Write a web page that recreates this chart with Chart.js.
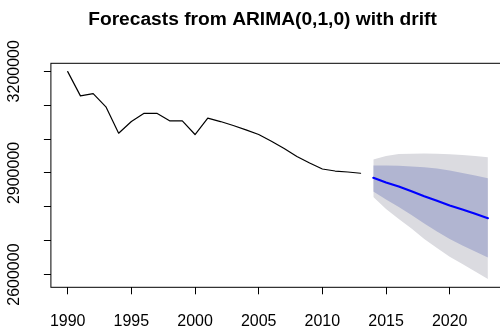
<!DOCTYPE html>
<html>
<head>
<meta charset="utf-8">
<script src="https://cdn.jsdelivr.net/npm/chart.js@4.4.0/dist/chart.umd.min.js"></script>
<style>
  html, body { margin: 0; padding: 0; background: #fff; width: 500px; height: 334px; overflow: hidden; }
  canvas { display: block; }
</style>
</head>
<body>
<canvas id="c" width="510" height="334" style="width:510px;height:334px"></canvas>
<script>
// Observed annual series
const years = [1990, 1991, 1992, 1993, 1994, 1995, 1996, 1997, 1998, 1999, 2000, 2001,
               2002, 2003, 2004, 2005, 2006, 2007, 2008, 2009, 2010, 2011, 2012, 2013];
const observed = [3199000, 3127400, 3134200, 3095000, 3017100, 3051600, 3075800, 3075800,
                  3053700, 3053700, 3013300, 3061900, 3051600, 3039800, 3027100, 3013300,
                  2993500, 2972000, 2948400, 2929200, 2911500, 2905600, 2902700, 2899100];

// Ten-year forecast with 80% and 95% intervals
const forecastYears = [2014, 2015, 2016, 2017, 2018, 2019, 2020, 2021, 2022, 2023];
const pointForecast = [2885500, 2871700, 2859900, 2846000, 2831300, 2817700, 2803800, 2792000, 2779400, 2766400];
const lo80 = [2845100, 2821500, 2799400, 2775800, 2750700, 2727100, 2705000, 2685800, 2668100, 2650400];
const hi80 = [2921800, 2921800, 2920900, 2918900, 2916800, 2913000, 2907100, 2899700, 2892300, 2884400];
const lo95 = [2828900, 2793500, 2764000, 2736000, 2705000, 2678500, 2652500, 2631300, 2609100, 2587000];
const hi95 = [2939500, 2949900, 2955800, 2956300, 2957200, 2956300, 2955200, 2952800, 2949900, 2946300];

// Axis ticks
const xTickValues = [1990, 1995, 2000, 2005, 2010, 2015, 2020];
const yTickValues = [2600000, 2700000, 2800000, 2900000, 3000000, 3100000, 3200000];
const yLabelValues = [2600000, 2900000, 3200000];

const chartTitle = 'Forecasts from ARIMA(0,1,0) with drift';

const FONT = '"Liberation Sans", Arial, sans-serif';

// Axis limits: data range widened by 4% on each side
function paddedRange(values) {
  const lo = Math.min(...values), hi = Math.max(...values);
  const pad = (hi - lo) * 0.04;
  return [lo - pad, hi + pad];
}
const [xMin, xMax] = paddedRange(years.concat(forecastYears));
const [yMin, yMax] = paddedRange(observed.concat(lo95, hi95));

const toPoints = (xs, ys) => xs.map((x, i) => ({ x: x, y: ys[i] }));

const LIGHT_BAND = '#DBDBE0';
const DARK_BAND = '#B1B5D1';

const lineBase = { pointRadius: 0, tension: 0, borderCapStyle: 'round', borderJoinStyle: 'round' };

const datasets = [
  Object.assign({ label: 'observed', data: toPoints(years, observed),
    borderColor: '#000', borderWidth: 1.2, fill: false, order: 0 }, lineBase),
  Object.assign({ label: 'forecast', data: toPoints(forecastYears, pointForecast),
    borderColor: '#0000FF', borderWidth: 2.2, fill: false, order: 0 }, lineBase),
  Object.assign({ label: 'lo80', data: toPoints(forecastYears, lo80),
    borderWidth: 0, borderColor: 'rgba(0,0,0,0)', fill: false, order: 1 }, lineBase),
  Object.assign({ label: 'hi80', data: toPoints(forecastYears, hi80),
    borderWidth: 0, borderColor: 'rgba(0,0,0,0)', backgroundColor: DARK_BAND, fill: '-1', order: 1 }, lineBase),
  Object.assign({ label: 'lo95', data: toPoints(forecastYears, lo95),
    borderWidth: 0, borderColor: 'rgba(0,0,0,0)', fill: false, order: 2 }, lineBase),
  Object.assign({ label: 'hi95', data: toPoints(forecastYears, hi95),
    borderWidth: 0, borderColor: 'rgba(0,0,0,0)', backgroundColor: LIGHT_BAND, fill: '-1', order: 2 }, lineBase)
];

// Plot frame, rotated y labels and the main title
const decorations = {
  id: 'decorations',
  afterDraw(chart) {
    const ctx = chart.ctx;
    const a = chart.chartArea;
    ctx.save();
    ctx.strokeStyle = '#000';
    ctx.lineWidth = 1;
    ctx.strokeRect(a.left, a.top, a.right - a.left, a.bottom - a.top);

    ctx.fillStyle = '#000';
    ctx.font = '16px ' + FONT;
    ctx.textAlign = 'center';
    ctx.textBaseline = 'middle';
    const ys = chart.scales.y;
    yLabelValues.forEach(v => {
      ctx.save();
      ctx.translate(14.5, ys.getPixelForValue(v));
      ctx.rotate(-Math.PI / 2);
      ctx.fillText(String(v), 0, 0);
      ctx.restore();
    });

    ctx.font = 'bold 19.2px ' + FONT;
    ctx.fillText(chartTitle, 262.5, 20);
    ctx.restore();
  }
};

new Chart(document.getElementById('c'), {
  type: 'line',
  data: { datasets: datasets },
  options: {
    responsive: false,
    animation: false,
    layout: { padding: { top: 63.3, right: 5.3, left: 0, bottom: 0 } },
    plugins: { legend: { display: false }, tooltip: { enabled: false }, title: { display: false } },
    scales: {
      x: {
        type: 'linear',
        min: xMin,
        max: xMax,
        afterBuildTicks: s => { s.ticks = xTickValues.map(v => ({ value: v })); },
        afterFit: s => { s.height = 46.7; },
        ticks: {
          autoSkip: false, maxRotation: 0, minRotation: 0, padding: 18,
          color: '#000', font: { family: FONT, size: 16 },
          callback: v => String(v)
        },
        grid: { drawOnChartArea: false, drawTicks: true, tickLength: 7, color: '#000', lineWidth: 1 },
        border: { display: false }
      },
      y: {
        type: 'linear',
        min: yMin,
        max: yMax,
        afterBuildTicks: s => { s.ticks = yTickValues.map(v => ({ value: v })); },
        afterFit: s => { s.width = 50.9; },
        ticks: { display: false },
        grid: { drawOnChartArea: false, drawTicks: true, tickLength: 7, color: '#000', lineWidth: 1 },
        border: { display: false }
      }
    }
  },
  plugins: [decorations]
});
</script>
</body>
</html>
